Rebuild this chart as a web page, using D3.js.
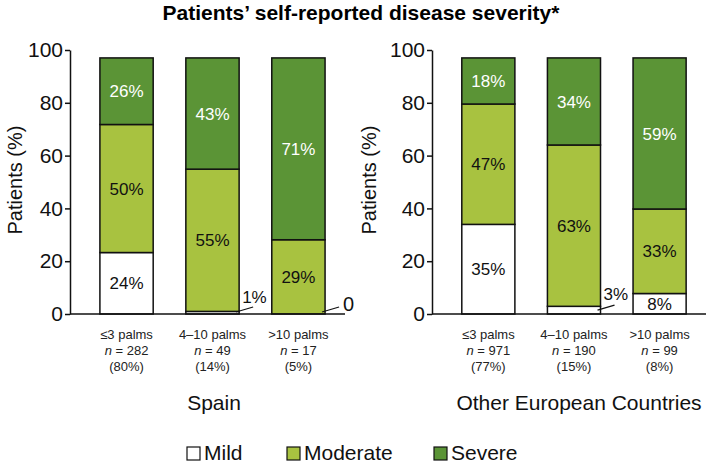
<!DOCTYPE html>
<html>
<head>
<meta charset="utf-8">
<script src="https://cdn.jsdelivr.net/npm/d3@7"></script>
<style>
  body { margin: 0; background: #fff; }
  text { font-family: "Liberation Sans", Arial, Helvetica, sans-serif; }
</style>
</head>
<body>
<div class="chart"></div>
<script>
// data
var groups = ["≤3 palms", "4–10 palms", ">10 palms"];
var severities = ["Mild", "Moderate", "Severe"];
var yTicks = [0, 20, 40, 60, 80, 100];

var spainN = [282, 49, 17];
var spainShare = ["80%", "14%", "5%"];
var spainMild = [24, 1, 0];
var spainModerate = [50, 55, 29];
var spainSevere = [26, 43, 71];

var otherN = [971, 190, 99];
var otherShare = ["77%", "15%", "8%"];
var otherMild = [35, 3, 8];
var otherModerate = [47, 63, 33];
var otherSevere = [18, 34, 59];

var colors = { Mild: "#ffffff", Moderate: "#a8c240", Severe: "#5b9436" };
var labelColors = { Mild: "#111", Moderate: "#111", Severe: "#fff" };

var W = 709, H = 468;
var svg = d3.select(".chart").append("svg")
  .attr("width", W).attr("height", H);

// title
svg.append("text")
  .attr("x", 361).attr("y", 20)
  .attr("text-anchor", "middle")
  .attr("font-size", "21px").attr("font-weight", "bold")
  .text("Patients’ self-reported disease severity*");

// axis scale (0..100), bars fill up to 97 on it
var y = d3.scaleLinear().domain([0, 100]).range([314, 50]);
var yBar = d3.scaleLinear().domain([0, 100]).range([y(0), y(97)]);

function panel(ax, axisEnd, titleX, name, nameX, mild, moderate, severe, ns, shares) {
  var g = svg.append("g");

  var x = d3.scaleBand().domain(groups)
    .range([ax, axisEnd])
    .paddingInner(0.38).paddingOuter(0.29).align(0.6);

  // y axis
  var yAxis = d3.axisLeft(y).tickValues(yTicks).tickSize(5).tickSizeOuter(0).tickPadding(2);
  var ga = g.append("g").attr("transform", "translate(" + ax + ",0)").call(yAxis);
  ga.select(".domain").attr("stroke", "#111").attr("stroke-width", 1.5);
  ga.selectAll(".tick line").attr("stroke", "#111").attr("stroke-width", 1.5);
  ga.selectAll(".tick text").attr("font-size", "21px").attr("fill", "#111")
    .attr("font-family", "Liberation Sans, Arial, sans-serif");

  // y title
  g.append("text")
    .attr("transform", "translate(" + titleX + "," + 180 + ") rotate(-90)")
    .attr("text-anchor", "middle")
    .attr("font-size", "20px").attr("fill", "#111")
    .text("Patients (%)");

  // stacked data, normalised per bar
  var rows = groups.map(function (grp, i) {
    var vals = [mild[i], moderate[i], severe[i]];
    var tot = d3.sum(vals);
    var c = 0;
    return severities.map(function (s, j) {
      var v0 = c / tot * 100;
      c += vals[j];
      return { group: grp, sev: s, value: vals[j], y0: v0, y1: c / tot * 100 };
    });
  });
  var segs = d3.merge(rows);

  g.selectAll(".seg")
    .data(segs.filter(function (d) { return d.y1 > d.y0; }))
    .enter().append("rect")
    .attr("x", function (d) { return x(d.group); })
    .attr("width", x.bandwidth())
    .attr("y", function (d) { return yBar(d.y1); })
    .attr("height", function (d) { return yBar(d.y0) - yBar(d.y1); })
    .attr("fill", function (d) { return colors[d.sev]; })
    .attr("stroke", "#111").attr("stroke-width", 1.5);

  // baseline
  g.append("line")
    .attr("x1", ax).attr("x2", axisEnd)
    .attr("y1", y(0)).attr("y2", y(0))
    .attr("stroke", "#111").attr("stroke-width", 1.5);

  // labels inside segments
  g.selectAll(".lab")
    .data(segs.filter(function (d) { return d.value >= 5; }))
    .enter().append("text")
    .attr("x", function (d) { return x(d.group) + x.bandwidth() / 2; })
    .attr("y", function (d) { return (yBar(d.y0) + yBar(d.y1)) / 2; })
    .attr("dy", "0.36em")
    .attr("text-anchor", "middle")
    .attr("font-size", "17px")
    .attr("fill", function (d) { return labelColors[d.sev]; })
    .text(function (d) { return d.value + "%"; });

  // small segments: leader line + outside label
  var small = segs.filter(function (d) { return d.value < 5; });
  small.forEach(function (d) {
    var xr = x(d.group) + x.bandwidth();
    var ym = (yBar(d.y0) + yBar(d.y1)) / 2;
    g.append("line")
      .attr("x1", xr - 3).attr("y1", Math.min(ym, y(0) - 2))
      .attr("x2", xr + 14).attr("y2", Math.min(ym, y(0) - 2) - 5)
      .attr("stroke", "#111").attr("stroke-width", 1.2);
    if (d.value === 0) {
      g.append("text")
        .attr("x", xr + 18).attr("y", y(0) - 3)
        .attr("font-size", "20px").attr("fill", "#111")
        .text("0");
    } else {
      g.append("text")
        .attr("x", xr + 3).attr("y", ym - 10)
        .attr("font-size", "17px").attr("fill", "#111")
        .text(d.value + "%");
    }
  });

  // category labels
  groups.forEach(function (grp, i) {
    var cx = x(grp) + x.bandwidth() / 2;
    var t = g.append("text").attr("text-anchor", "middle")
      .attr("font-size", "13px").attr("fill", "#222");
    t.append("tspan").attr("x", cx).attr("y", 339).text(grp);
    var t2 = t.append("tspan").attr("x", cx).attr("y", 355);
    t2.append("tspan").attr("font-style", "italic").text("n");
    t2.append("tspan").text(" = " + ns[i]);
    t.append("tspan").attr("x", cx).attr("y", 371).text("(" + shares[i] + ")");
  });

  // panel name
  g.append("text")
    .attr("x", nameX).attr("y", 410)
    .attr("text-anchor", "middle")
    .attr("font-size", "21px").attr("fill", "#111")
    .text(name);
}

panel(70, 345, 22, "Spain", 214, spainMild, spainModerate, spainSevere, spainN, spainShare);
panel(432, 706, 376, "Other European Countries", 579, otherMild, otherModerate, otherSevere, otherN, otherShare);

// legend
var legendX = [187, 287, 434];
var lg = svg.selectAll(".legend")
  .data(severities).enter().append("g")
  .attr("transform", function (d, i) { return "translate(" + legendX[i] + ",447)"; });
lg.append("rect")
  .attr("width", 13).attr("height", 13)
  .attr("fill", function (d) { return colors[d]; })
  .attr("stroke", "#111").attr("stroke-width", 1.2);
lg.append("text")
  .attr("x", 17).attr("y", 13)
  .attr("font-size", "21px").attr("fill", "#111")
  .text(function (d) { return d; });
</script>
</body>
</html>
